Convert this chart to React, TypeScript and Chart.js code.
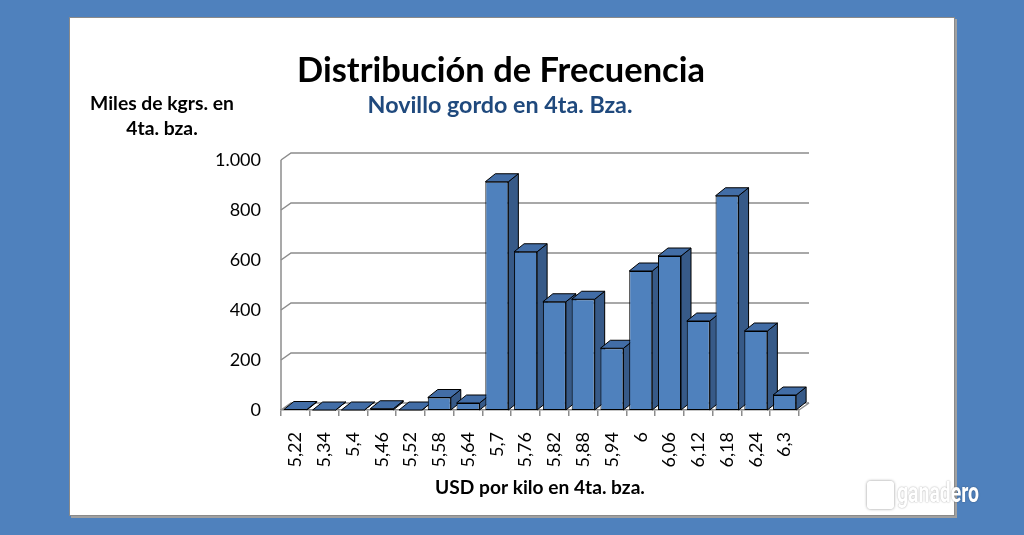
import { useEffect, useRef } from 'react';
import { Chart, registerables } from 'chart.js';

Chart.register(...registerables);

const categories = ['5,22', '5,34', '5,4', '5,46', '5,52', '5,58', '5,64', '5,7', '5,76', '5,82', '5,88', '5,94', '6', '6,06', '6,12', '6,18', '6,24', '6,3'];
const values = [2, 0, 0, 5, 0, 50, 28, 913, 633, 433, 443, 247, 556, 616, 356, 857, 316, 60];
const yTickValues = [0, 200, 400, 600, 800, 1000];
const yTickLabels = ['0', '200', '400', '600', '800', '1.000'];
const titleText = 'Distribución de Frecuencia';
const subtitleText = 'Novillo gordo en 4ta. Bza.';
const yTitleLines = ['Miles de kgrs. en', '4ta. bza.'];
const xTitleText = 'USD por kilo en 4ta. bza.';

const FONT = 'Lato, "Open Sans", sans-serif';
const FRONT = '#4F81BD';
const SIDE = '#375A88';
const TOP = '#426DA6';
const GRID = '#8c8c8c';
const DX = 10;
const DY = 8;
const WDX = 10;
const WDY = 7;

function fitSize(ctx: CanvasRenderingContext2D, text: string, weight: string, target: number) {
  ctx.font = `${weight} 100px ${FONT}`;
  const w = ctx.measureText(text).width;
  return (100 * target) / w;
}

const wallPlugin = {
  id: 'wall3d',
  beforeDatasetsDraw(chart: any) {
    const ctx: CanvasRenderingContext2D = chart.ctx;
    const { left, right } = chart.chartArea;
    const y = chart.scales.y;
    ctx.save();
    ctx.strokeStyle = GRID;
    ctx.lineWidth = 1.5;
    ctx.beginPath();
    ctx.moveTo(left, y.getPixelForValue(yTickValues[yTickValues.length - 1]));
    ctx.lineTo(left, y.getPixelForValue(0));
    ctx.stroke();
    for (const v of yTickValues) {
      const py = y.getPixelForValue(v);
      ctx.beginPath();
      ctx.moveTo(left, py);
      ctx.lineTo(left + WDX, py - WDY);
      ctx.lineTo(right + WDX, py - WDY);
      ctx.stroke();
    }
    const p0 = y.getPixelForValue(0);
    ctx.beginPath();
    ctx.moveTo(right, p0);
    ctx.lineTo(right + WDX, p0 - WDY);
    ctx.stroke();

    const meta = chart.getDatasetMeta(0);
    ctx.strokeStyle = '#000';
    ctx.lineWidth = 1;
    ctx.lineJoin = 'round';
    meta.data.forEach((el: any) => {
      const { x, y: top, base, width } = el.getProps(['x', 'y', 'base', 'width'], true);
      const L = x - width / 2;
      const R = x + width / 2;
      ctx.beginPath();
      ctx.moveTo(R, top);
      ctx.lineTo(R + DX, top - DY);
      ctx.lineTo(R + DX, base - DY);
      ctx.lineTo(R, base);
      ctx.closePath();
      ctx.fillStyle = SIDE;
      ctx.fill();
      ctx.stroke();
      ctx.beginPath();
      ctx.moveTo(L, top);
      ctx.lineTo(L + DX, top - DY);
      ctx.lineTo(R + DX, top - DY);
      ctx.lineTo(R, top);
      ctx.closePath();
      ctx.fillStyle = TOP;
      ctx.fill();
      ctx.stroke();
    });
    ctx.restore();
  },
};

const textPlugin = {
  id: 'texts',
  afterDraw(chart: any) {
    const ctx: CanvasRenderingContext2D = chart.ctx;
    const { left, right } = chart.chartArea;
    ctx.save();
    ctx.textAlign = 'center';
    ctx.textBaseline = 'alphabetic';

    let s = fitSize(ctx, titleText, 'bold', 408);
    ctx.font = `bold ${s}px ${FONT}`;
    ctx.fillStyle = '#000';
    ctx.fillText(titleText, 501, 82);

    s = fitSize(ctx, subtitleText, 'bold', 265);
    ctx.font = `bold ${s}px ${FONT}`;
    ctx.fillStyle = '#1F497D';
    ctx.fillText(subtitleText, 500, 113);

    s = fitSize(ctx, yTitleLines[0], 'bold', 144);
    ctx.font = `bold ${s}px ${FONT}`;
    ctx.fillStyle = '#000';
    ctx.fillText(yTitleLines[0], 162, 110);
    ctx.fillText(yTitleLines[1], 162, 135);

    s = fitSize(ctx, xTitleText, 'bold', 210);
    ctx.font = `bold ${s}px ${FONT}`;
    ctx.fillText(xTitleText, (left + right) / 2, 494);
    ctx.restore();
  },
};

export default function App() {
  const ref = useRef<HTMLCanvasElement | null>(null);

  useEffect(() => {
    if (!ref.current) return;
    const chart = new Chart(ref.current, {
      type: 'bar',
      data: {
        labels: categories,
        datasets: [
          {
            data: values,
            backgroundColor: FRONT,
            borderColor: '#000',
            borderWidth: 1,
            borderSkipped: false,
            barPercentage: 0.8,
            categoryPercentage: 1,
          },
        ],
      },
      options: {
        animation: false,
        responsive: false,
        devicePixelRatio: 1,
        layout: { padding: { left: 0, top: 160, right: 225, bottom: 0 } },
        plugins: {
          legend: { display: false },
          title: { display: false },
          tooltip: { enabled: false },
        },
        scales: {
          x: {
            type: 'category',
            offset: true,
            grid: {
              display: true,
              drawOnChartArea: false,
              drawTicks: true,
              tickLength: 6,
              color: GRID,
              lineWidth: 1.5,
              offset: true,
            },
            border: { display: true, color: GRID, width: 1.5 },
            ticks: {
              autoSkip: false,
              minRotation: 90,
              maxRotation: 90,
              padding: 16,
              color: '#000',
              font: { family: FONT, size: 18 },
            },
            afterFit: (sc: any) => {
              sc.height = 125;
            },
          },
          y: {
            min: 0,
            max: 1000,
            grid: { display: false, drawTicks: false },
            border: { display: false },
            ticks: {
              stepSize: 200,
              padding: 20,
              color: '#000',
              font: { family: FONT, size: 18 },
              callback: (v: any) => {
                const i = yTickValues.indexOf(Number(v));
                return i >= 0 ? yTickLabels[i] : '';
              },
            },
            afterFit: (sc: any) => {
              sc.width = 281;
            },
          },
        },
      },
      plugins: [wallPlugin, textPlugin],
    });
    return () => chart.destroy();
  }, []);

  return (
    <div style={{ position: 'fixed', left: 0, top: 0, width: 1024, height: 535, background: '#4F81BD', overflow: 'hidden' }}>
      <div
        style={{
          position: 'absolute',
          left: 69,
          top: 17,
          width: 884,
          height: 497,
          background: '#fff',
          border: '1px solid #8a8a8a',
          boxShadow: '2px 2px 0 #a0a0a0',
        }}
      />
      <canvas ref={ref} width={1024} height={535} style={{ position: 'absolute', left: 0, top: 0, width: 1024, height: 535 }} />
      <div
        style={{
          position: 'absolute',
          left: 867,
          top: 481,
          width: 23,
          height: 24,
          border: '2px solid rgba(255,255,255,0.95)',
          borderRadius: 4,
          boxShadow: '0 0 3px rgba(0,0,0,0.45)',
        }}
      />
      <div
        style={{
          position: 'absolute',
          left: 897,
          top: 477,
          fontFamily: 'Roboto, "Liberation Sans", sans-serif',
          fontWeight: 'bold',
          fontSize: 27,
          lineHeight: '32px',
          color: '#fff',
          textShadow: '0 0 2px rgba(0,0,0,0.4)',
          transform: 'scaleX(0.72)',
          transformOrigin: 'left center',
          whiteSpace: 'nowrap',
        }}
      >
        ganadero
      </div>
    </div>
  );
}
